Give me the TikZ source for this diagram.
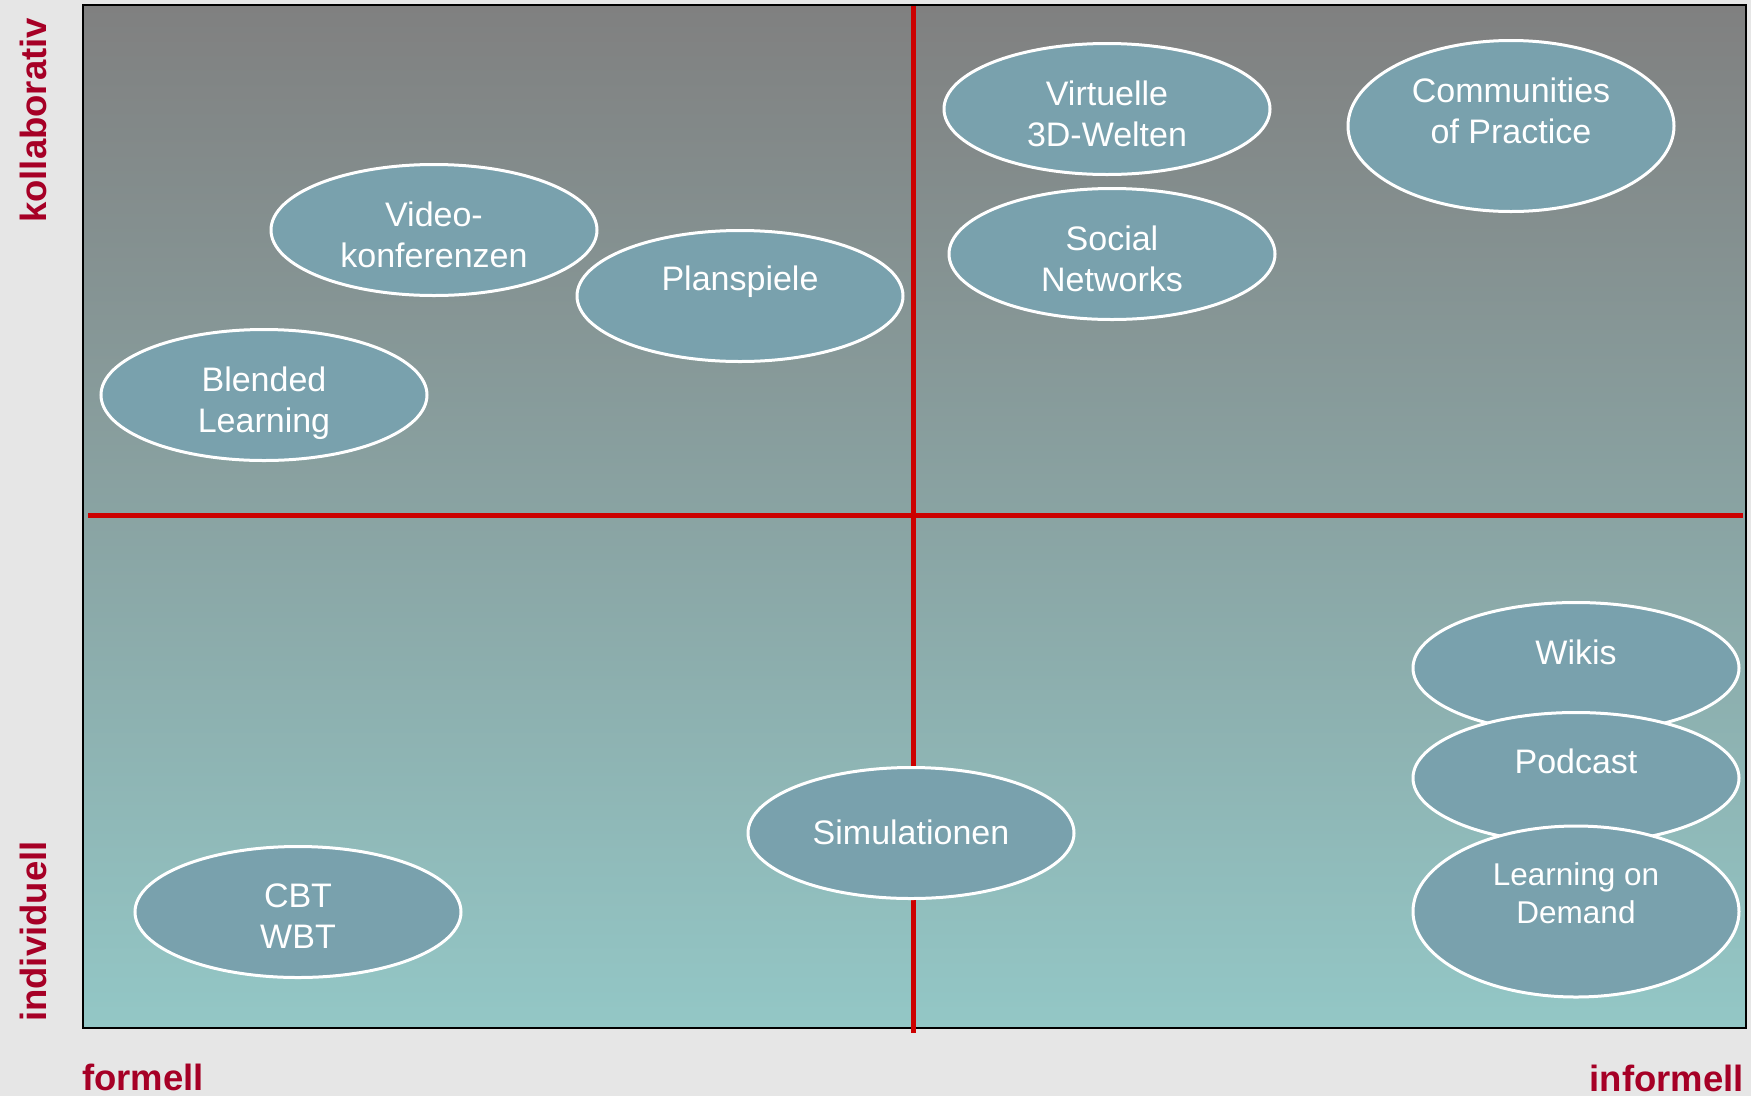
\documentclass[tikz,border=0pt]{standalone}
\usepackage{fontspec}
\setmainfont{Liberation Sans}
\usetikzlibrary{shapes.geometric}
\definecolor{bgc}{RGB}{230,230,230}
\definecolor{topc}{RGB}{128,128,128}
\definecolor{botc}{RGB}{147,199,198}
\definecolor{bubfill}{RGB}{121,161,173}
\definecolor{axisred}{RGB}{204,0,0}
\definecolor{labelred}{RGB}{166,0,38}
\begin{document}
\begin{tikzpicture}[x=1pt,y=-1pt,
  bubble/.style={ellipse, draw=white, line width=3pt, fill=bubfill,
    minimum width=326pt, minimum height=131pt, inner sep=0pt},
  tall/.style={minimum height=171pt},
  bubtxt/.style={inner sep=0pt, text=white, align=center, font=\fontsize{34}{41}\selectfont},
  axislbl/.style={text=labelred, font=\fontsize{36.5}{44}\selectfont\bfseries, inner sep=0pt},
  axisline/.style={draw=axisred, line width=5pt}]
\fill[bgc] (0,0) rectangle (1751,1096);
\useasboundingbox (0,0) rectangle (1751,1096);
\shade[top color=topc, bottom color=botc] (83,5) rectangle (1746,1028);
\draw[black, line width=2pt] (83,5) rectangle (1746,1028);
% axes
\coordinate (vtop) at (913,6);
\coordinate (vbot) at (913,1033);
\coordinate (hl) at (88,515);
\coordinate (hr) at (1743,515);
\draw[axisline] (vtop) -- (vbot);
\draw[axisline] (hl) -- (hr);
% bubbles
\node[bubble] (video) at (434,230) {};
\node[bubtxt] (videotxt) at ([yshift=-4.5pt]video.center) {Video-\\konferenzen};
\node[bubble] (plan) at (740,296) {};
\node[bubtxt] (plantxt) at ([yshift=14.5pt]plan.center) {Planspiele};
\node[bubble] (blended) at (264,395) {};
\node[bubtxt] (blendedtxt) at ([yshift=-8pt]blended.center) {Blended\\Learning};
\node[bubble] (virt) at (1107,109) {};
\node[bubtxt] (virttxt) at ([yshift=-4.5pt]virt.center) {Virtuelle\\3D-Welten};
\node[bubble] (social) at (1112,254) {};
\node[bubtxt] (socialtxt) at ([yshift=-4.5pt]social.center) {Social\\Networks};
\node[bubble, tall] (cop) at (1511,126) {};
\node[bubtxt] (coptxt) at ([yshift=15pt]cop.center) {Communities\\of Practice};
\node[bubble] (sim) at (911,833) {};
\node[bubtxt] (simtxt) at ([yshift=1pt]sim.center) {Simulationen};
\node[bubble] (cbt) at (298,912) {};
\node[bubtxt] (cbttxt) at ([yshift=-4.5pt]cbt.center) {CBT\\WBT};
\node[bubble] (wikis) at (1576,668) {};
\node[bubtxt] (wikistxt) at ([yshift=16pt]wikis.center) {Wikis};
\node[bubble] (pod) at (1576,778) {};
\node[bubtxt] (podtxt) at ([yshift=17pt]pod.center) {Podcast};
\node[bubble, tall] (lod) at (1576,911.5) {};
\node[bubtxt, font=\fontsize{31.5}{37.8}\selectfont] (lodtxt) at ([yshift=18.5pt]lod.center) {Learning on\\Demand};
% axis labels
\node[axislbl, rotate=90, anchor=base west] (koll) at (46,223) {kollaborativ};
\node[axislbl, rotate=90, anchor=base west] (indiv) at (46,1022) {individuell};
\node[axislbl, anchor=base west] (form) at (82,1090) {formell};
\node[axislbl, anchor=base east] (inform) at (1744,1091) {informell};
\end{tikzpicture}
\end{document}
